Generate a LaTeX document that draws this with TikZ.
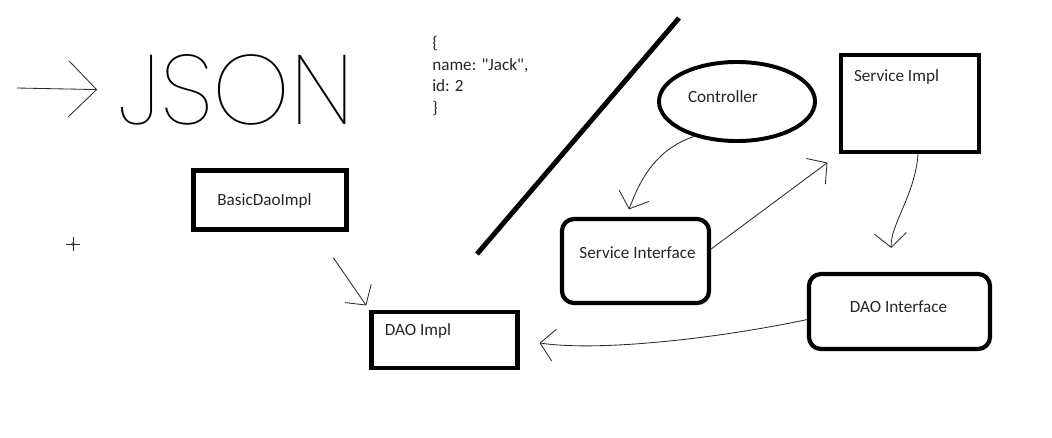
\documentclass[tikz,border=0pt]{standalone}
\usepackage{fontspec}
\setmainfont{Carlito}[Ligatures=TeXOff]
\newfontfamily\jsonfont{Poppins Thin}
\usetikzlibrary{arrows.meta, positioning, shapes.geometric, calc}
\definecolor{paintInk}{HTML}{000000}
\definecolor{paintPen}{HTML}{2B2B2B}

\begin{document}
\begin{tikzpicture}[x=0.025cm, y=-0.025cm, font=\fontsize{12.2}{15.3}\selectfont,
    plainbox/.style={draw=paintInk, line width=3.2pt, inner sep=0pt},
    roundbox/.style={draw=paintInk, line width=3pt, rounded corners=0.3cm, inner sep=0pt},
    oval/.style={ellipse, draw=paintInk, line width=2.8pt, inner sep=0pt},
    lbl/.style={inner sep=0pt, align=left, text=paintInk!85},
    pen/.style={draw=paintPen, line width=0.6pt, -{Straight Barb[length=3.5mm, width=8mm]}}]

  \fill[white] (0,0) rectangle (1052,437);
  \useasboundingbox (0,0) rectangle (1052,437);

  \node[font=\jsonfont\fontsize{70}{70}\selectfont, inner sep=0pt, anchor=west] (json) at (118,90) {JSON};
  \coordinate (jsonIn) at (17,88);
  \draw[pen, -{Straight Barb[length=7mm, width=14mm]}, shorten >=0.52cm] (jsonIn) -- (json.west);

  \node[lbl, anchor=north west] (payload) at (432,36) {\{\\name: "Jack",\\id: 2\\\}};

  \coordinate (slashTop) at (679,18);
  \coordinate (slashBot) at (477,254);
  \draw[paintInk, line width=3.5pt] (slashTop) -- (slashBot);

  \draw[paintPen, line width=0.5pt] (66,244) -- (80,244) (73,237) -- (73,251);
  \draw[paintPen, line width=0.4pt] (73,244) circle (1.5);

  \node[oval, minimum width=3.9cm, minimum height=1.975cm] (ctrl) at (737,101.5) {};
  \node[lbl] (ctrlTxt) at (723,97) {Controller};

  \node[plainbox, minimum width=3.45cm, minimum height=2.425cm] (svcImpl) at (910,103.5) {};
  \node[lbl] (svcImplTxt) at (896.5,77) {Service Impl};

  \node[roundbox, minimum width=3.675cm, minimum height=2.1cm] (svcIf) at (635.5,261) {};
  \node[lbl] (svcIfTxt) at (637.5,253) {Service Interface};

  \node[roundbox, minimum width=4.525cm, minimum height=1.875cm] (daoIf) at (899.5,311.5) {};
  \node[lbl] (daoIfTxt) at (898.5,307) {DAO Interface};

  \node[plainbox, minimum width=3.825cm, minimum height=1.475cm] (basicDao) at (270,200) {};
  \node[lbl] (basicDaoTxt) at (264.5,201) {BasicDaoImpl};

  \node[plainbox, minimum width=3.65cm, minimum height=1.4cm] (daoImpl) at (444.5,340) {};
  \node[lbl] (daoImplTxt) at (418,331) {DAO Impl};

  \draw[pen, shorten >=0.2cm] (ctrl.219) .. controls (655,150) and (640,180) .. (svcIf.102);
  \draw[pen, shorten >=0.35cm] (svcIf.9) -- (svcImpl.south west);
  \draw[pen, shorten >=0.6cm] (svcImpl.-81) .. controls (915,195) and (890,225) .. (daoIf.100);
  \draw[pen, shorten >=0.5cm] (daoIf.185) .. controls (720,338) and (600,352) .. (daoImpl.east);
  \draw[pen, shorten <=0.79cm, shorten >=0.13cm] (basicDao.-35.5) -- (daoImpl.north west);
\end{tikzpicture}
\end{document}
